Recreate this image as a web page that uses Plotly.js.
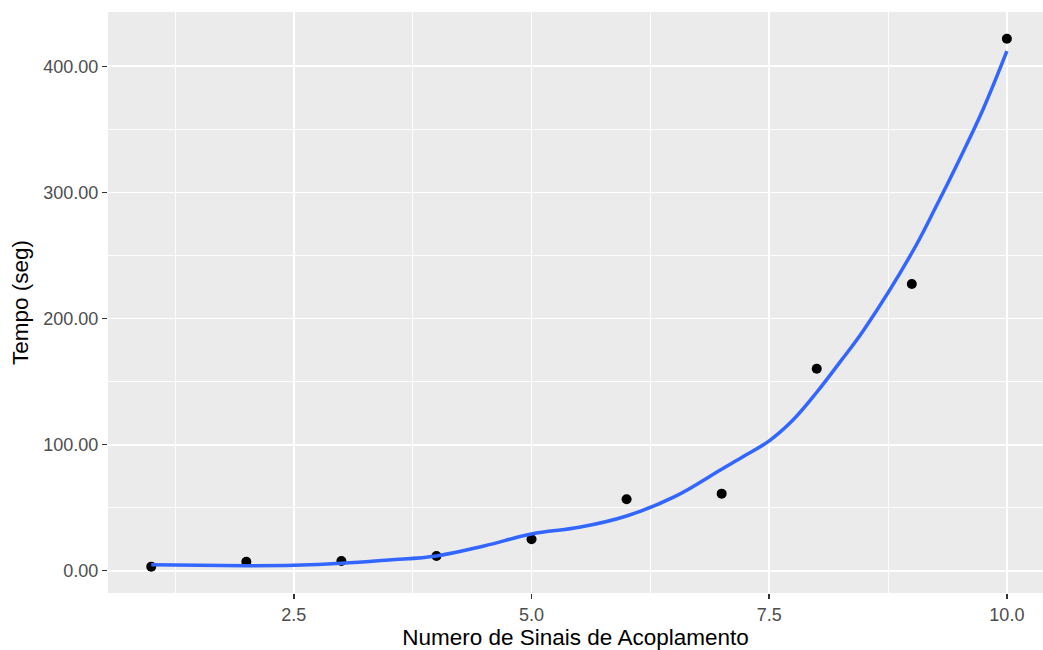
<!DOCTYPE html>
<html>
<head>
<meta charset="utf-8">
<script src="https://cdn.plot.ly/plotly-3.0.1.min.js"></script>
<style>html,body{margin:0;padding:0;background:#fff;}#chart{width:1043px;height:650px;}</style>
</head>
<body>
<div id="chart"></div>
<script>
// Observed points
const pointX = [1, 2, 3, 4, 5, 6, 7, 8, 9, 10];
const pointY = [3.2, 7.1, 7.7, 11.7, 24.9, 56.6, 61.1, 160.2, 227.4, 421.9];

// Smoothed (loess) curve
const smoothX = [1, 1.5, 2, 2.5, 3, 3.5, 4, 4.5, 5, 5.5, 6, 6.5, 7, 7.25, 7.5, 7.75, 8, 8.25, 8.5, 9, 9.25, 9.5, 9.75, 10];
const smoothY = [4.8, 4.3, 4.0, 4.3, 5.8, 8.5, 11.7, 19.6, 29.1, 34.4, 43.4, 58.5, 80.5, 91.5, 103, 119.5, 141.5, 166, 191.5, 252, 288, 326, 366, 412];

// Axis ticks
const xTickVals = [2.5, 5.0, 7.5, 10.0];
const xTickText = ["2.5", "5.0", "7.5", "10.0"];
const xMinorVals = [1.25, 3.75, 6.25, 8.75];
const yTickVals = [0, 100, 200, 300, 400];
const yTickText = ["0.00", "100.00", "200.00", "300.00", "400.00"];
const yMinorVals = [50, 150, 250, 350];

const font = "Liberation Sans, Arial, Helvetica, sans-serif";

const traces = [
  {
    x: pointX, y: pointY, type: "scatter", mode: "markers",
    marker: {color: "#000000", size: 10},
    hoverinfo: "x+y", showlegend: false
  },
  {
    x: smoothX, y: smoothY, type: "scatter", mode: "lines",
    line: {color: "#3366FF", width: 3.5, shape: "spline", smoothing: 1.1},
    hoverinfo: "x+y", showlegend: false
  }
];

const layout = {
  width: 1043, height: 650,
  margin: {l: 108, r: 0, t: 12, b: 57, pad: 0},
  paper_bgcolor: "#FFFFFF",
  plot_bgcolor: "#EBEBEB",
  font: {family: font, color: "#4D4D4D"},
  xaxis: {
    range: [0.545, 10.38],
    tickmode: "array", tickvals: xTickVals, ticktext: xTickText,
    showgrid: true, gridcolor: "#FFFFFF", gridwidth: 1.8,
    zeroline: false, showline: false,
    ticks: "outside", ticklen: 5, tickwidth: 1.6, tickcolor: "#333333",
    tickfont: {size: 18, color: "#4D4D4D", family: font},
    minor: {tickmode: "array", tickvals: xMinorVals, showgrid: true, gridcolor: "#FFFFFF", gridwidth: 0.9, ticks: ""},
    title: {text: "Numero de Sinais de Acoplamento", font: {size: 22.5, color: "#000000", family: font}, standoff: 5},
    fixedrange: true
  },
  yaxis: {
    range: [-17.7, 443.1],
    tickmode: "array", tickvals: yTickVals, ticktext: yTickText,
    showgrid: true, gridcolor: "#FFFFFF", gridwidth: 1.8,
    zeroline: false, showline: false,
    ticks: "outside", ticklen: 5, tickwidth: 1.6, tickcolor: "#333333",
    tickfont: {size: 18, color: "#4D4D4D", family: font},
    minor: {tickmode: "array", tickvals: yMinorVals, showgrid: true, gridcolor: "#FFFFFF", gridwidth: 0.9, ticks: ""},
    title: {text: "Tempo (seg)", font: {size: 22.5, color: "#000000", family: font}, standoff: 8},
    fixedrange: true
  }
};

Plotly.newPlot("chart", traces, layout, {displayModeBar: false, staticPlot: true});
</script>
</body>
</html>
